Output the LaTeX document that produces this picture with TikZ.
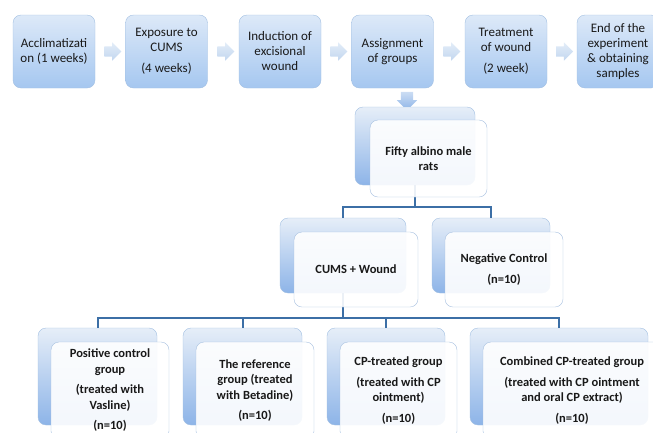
\documentclass[tikz,border=0pt]{standalone}
\usepackage{fontspec}
\setmainfont{Carlito}
\usetikzlibrary{shapes.arrows,calc}

\definecolor{boxedge}{HTML}{A3C0E2}
\definecolor{stagetop}{HTML}{DDE9F8}
\definecolor{stagebot}{HTML}{A5C7F0}
\definecolor{backtop}{HTML}{E6EEF8}
\definecolor{backbot}{HTML}{8DB4E8}
\definecolor{frontedge}{HTML}{A6C0E0}
\definecolor{linkblue}{HTML}{3C6FA6}
\definecolor{chevtop}{HTML}{E3EDF8}
\definecolor{chevbot}{HTML}{C2D6EF}

\tikzstyle{stage}=[rectangle,rounded corners=8pt,draw=boxedge,top color=stagetop,bottom color=stagebot,minimum width=82pt,minimum height=73pt,align=center,inner sep=1pt,text=black!90,font=\fontsize{13}{15}\selectfont]
\tikzstyle{backbox}=[rectangle,rounded corners=8pt,draw=boxedge,top color=backtop,bottom color=backbot,inner sep=0pt]
\tikzstyle{grpbox}=[rectangle,rounded corners=8pt,draw=frontedge,fill=white,fill opacity=0.9,text opacity=1,align=center,inner sep=1pt,text=black!90,font=\bfseries\fontsize{12.5}{15.5}\selectfont]
\tikzstyle{link}=[draw=linkblue,line width=2pt]
\tikzstyle{chev}=[single arrow,single arrow head extend=4pt,inner sep=5pt,minimum height=17pt,top color=chevtop,bottom color=chevbot,draw=none]

\begin{document}
\begin{tikzpicture}[x=1pt,y=-1pt]
  \useasboundingbox (0,0) rectangle (653,432);
  \clip (0,0) rectangle (653,432);

  % time line
  \node (st1) at (54,51.5) [stage] {Acclimatizati\\on (1 weeks)};
  \node (st2) at (166.5,51.5) [stage] {Exposure to\\CUMS\\[6pt](4 weeks)};
  \node (st3) at (280,51.5) [stage] {Induction of\\excisional\\wound};
  \node (st4) at (392.5,51.5) [stage] {Assignment\\of groups};
  \node (st5) at (506,51.5) [stage] {Treatment\\of wound\\[6pt](2 week)};
  \node (st6) at (618,51.5) [stage] {End of the\\experiment\\\& obtaining\\samples};

  \foreach \a [remember=\a as \lasta (initially 1)] in {2,3,...,6}{
    \node (ch\a) at ($(st\lasta.east)!0.5!(st\a.west)$) [chev] {};
  }
  \node (dn) at (407,98) [chev,shape border rotate=270,inner sep=6pt,minimum height=16pt,top color=backtop!70!backbot,bottom color=backbot] {};

  % groups, back boxes
  \node (fifty-b) at (415,146) [backbox,minimum width=120pt,minimum height=78pt] {};
  \node (cums-b) at (343,255.5) [backbox,minimum width=126pt,minimum height=75pt] {};
  \node (neg-b) at (491,255.5) [backbox,minimum width=118pt,minimum height=75pt] {};
  \foreach \nm/\cx/\bw in {p1/97.5/119,p2/242.5/119,p3/386/118,p4/559/178}{
    \node (\nm-b) at (\cx,376.5) [backbox,minimum width=\bw pt,minimum height=97pt] {};
  }

  \draw[link] (fifty-b.south) -- ++(0,22) -| (cums-b.north);
  \draw[link] (fifty-b.south) -- ++(0,22) -| (neg-b.north);
  \foreach \nm in {p1,p2,p3,p4}{
    \draw[link] (cums-b.south) -- ++(0,25) -| (\nm-b.north);
  }

  % groups, front boxes
  \node (fifty) at (428.5,158.5) [grpbox,minimum width=117pt,minimum height=77pt] {Fifty albino male\\rats};
  \node (cums) at (356,269.5) [grpbox,minimum width=124pt,minimum height=75pt] {CUMS + Wound};
  \node (neg) at (504,269.5) [grpbox,minimum width=118pt,minimum height=75pt] {Negative Control\\[5pt](n=10)};
  \node (p1) at (110,390.5) [grpbox,minimum width=118pt,minimum height=97pt] {Positive control\\group\\[5pt](treated with\\Vasline)\\[5pt](n=10)};
  \node (p2) at (255,390.5) [grpbox,minimum width=118pt,minimum height=97pt] {The reference\\group (treated\\with Betadine)\\[5pt](n=10)};
  \node (p3) at (398.5,390.5) [grpbox,minimum width=117pt,minimum height=97pt] {CP-treated group\\[5pt](treated with CP\\ointment)\\[5pt](n=10)};
  \node (p4) at (572,390.5) [grpbox,minimum width=178pt,minimum height=97pt] {Combined CP-treated group\\[5pt](treated with CP ointment\\and oral CP extract)\\[5pt](n=10)};
\end{tikzpicture}
\end{document}
